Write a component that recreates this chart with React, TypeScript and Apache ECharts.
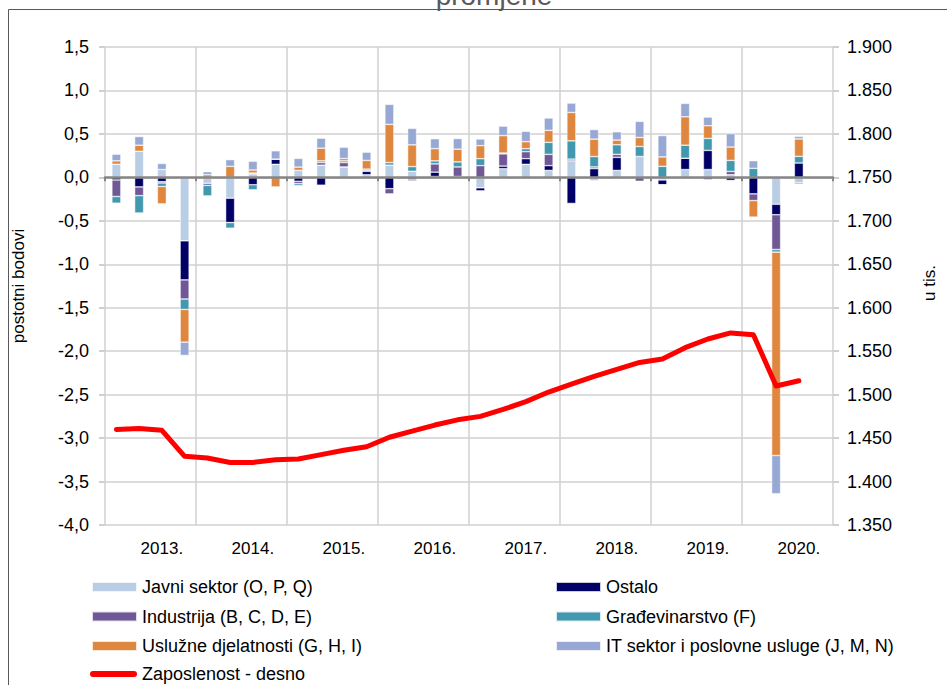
import React, { useEffect, useRef } from "react";
import * as echarts from "echarts";

const years = ["2013.", "2014.", "2015.", "2016.", "2017.", "2018.", "2019.", "2020."];
const quarterNames = ["Q1", "Q2", "Q3", "Q4"];
const categories = years.flatMap((y) => quarterNames.map((q) => y + " " + q));

const leftTicks = { min: -4, max: 1.5, step: 0.5 };
const rightTicks = { min: 1350, max: 1900, step: 50 };

const javni = [0.15, 0.3, 0.09, -0.73, -0.07, -0.24, 0.04, 0.15, 0.08, 0.14, 0.12, 0.03, 0.14, 0.07, 0.01, 0.0, -0.12, 0.1, 0.15, 0.08, 0.19, -0.04, 0.08, 0.24, -0.03, 0.09, 0.09, 0.03, 0.0, -0.31, -0.065, null];
const ostalo = [-0.03, -0.11, -0.05, -0.45, 0, -0.28, -0.085, 0.06, -0.045, -0.09, 0, 0.04, -0.13, -0.02, 0.05, 0.01, -0.035, 0.03, 0.065, 0.055, -0.3, 0.1, 0.15, 0, -0.055, 0.13, 0.22, -0.035, -0.19, -0.12, 0.165, null];
const industrija = [-0.19, -0.1, -0.015, -0.22, -0.023, 0, 0.01, 0, -0.027, 0.03, 0.05, 0.01, -0.06, -0.02, 0.095, 0.11, 0.135, 0.14, 0.08, 0.13, 0.02, 0.02, 0.035, -0.045, 0, 0, -0.027, 0.038, -0.077, -0.4, -0.015, null];
const gradjevinarstvo = [-0.077, -0.2, -0.04, -0.12, -0.12, -0.065, -0.058, 0, -0.023, 0.02, 0.02, 0.015, 0.03, 0.054, 0.035, 0.058, 0.08, 0.01, 0.035, 0.138, 0.21, 0.12, 0.11, 0.115, 0.127, 0.15, 0.138, 0.127, 0.104, -0.03, 0.077, null];
const usluzne = [0.04, 0.07, -0.2, -0.376, 0.03, 0.127, 0.035, -0.11, 0.038, 0.146, 0.027, 0.1, 0.44, 0.25, 0.14, 0.146, 0.15, 0.2, 0.08, 0.138, 0.327, 0.2, 0.054, 0.104, 0.108, 0.327, 0.146, 0.154, -0.19, -2.34, 0.2, null];
const itSektor = [0.077, 0.1, 0.07, -0.153, 0.035, 0.077, 0.1, 0.096, 0.1, 0.115, 0.13, 0.095, 0.23, 0.19, 0.115, 0.123, 0.077, 0.11, 0.12, 0.142, 0.108, 0.11, 0.096, 0.185, 0.246, 0.154, 0.1, 0.154, 0.088, -0.44, 0.03, null];
const zaposlenost = [1460, 1461, 1459, 1429, 1427, 1422, 1422, 1425, 1426, 1431, 1436, 1440, 1451, 1458, 1465, 1471, 1475, 1483, 1492, 1503, 1512, 1521, 1529, 1537, 1541, 1554, 1564, 1571, 1569, 1510, 1516, null];

const barSeries = [
  { name: "Javni sektor (O, P, Q)", data: javni, color: "#B9CDE5" },
  { name: "Ostalo", data: ostalo, color: "#000066" },
  { name: "Industrija (B, C, D, E)", data: industrija, color: "#705796" },
  { name: "Građevinarstvo (F)", data: gradjevinarstvo, color: "#4198AF" },
  { name: "Uslužne djelatnosti (G, H, I)", data: usluzne, color: "#DF873E" },
  { name: "IT sektor i poslovne usluge (J, M, N)", data: itSektor, color: "#96A8D3" },
];
const lineName = "Zaposlenost - desno";

const FONT = "'Liberation Sans', Arial, sans-serif";
const legendText = { fontSize: 18, color: "#000", lineHeight: 20, fontFamily: FONT };

export default function App() {
  const ref = useRef<HTMLDivElement>(null);
  useEffect(() => {
    if (!ref.current) return;
    const chart = echarts.init(ref.current, undefined, { renderer: "svg" });
    const option: any = {
      animation: false,
      textStyle: { fontFamily: FONT },
      grid: { left: 105, right: 114, top: 47, bottom: 160, containLabel: false },
      xAxis: [
        {
          type: "category",
          data: categories,
          position: "bottom",
          axisLine: { onZero: true, lineStyle: { color: "#868686", width: 2.5 } },
          axisTick: { show: true, interval: 3, length: 4, lineStyle: { color: "#868686", width: 2 } },
          axisLabel: { show: false },
          splitLine: { show: true, interval: 3, lineStyle: { color: "#D0D0D0", width: 1.5 } },
          z: 3,
        },
        {
          type: "category",
          data: categories,
          position: "bottom",
          axisLine: { show: false, onZero: false },
          axisTick: { show: false },
          splitLine: { show: false },
          axisLabel: {
            interval: (i: number) => i % 4 === 2,
            formatter: (v: string) => v.split(" ")[0],
            fontSize: 17,
            color: "#000",
            margin: 15,
            fontFamily: FONT,
          },
        },
      ],
      yAxis: [
        {
          type: "value",
          min: leftTicks.min,
          max: leftTicks.max,
          interval: leftTicks.step,
          position: "left",
          axisLine: { show: false },
          axisTick: { show: true, length: 6, lineStyle: { color: "#BFBFBF", width: 1.5 } },
          axisLabel: {
            formatter: (v: number) => v.toFixed(1).replace(".", ","),
            fontSize: 18,
            color: "#000",
            margin: 16,
            fontFamily: FONT,
          },
          splitLine: { show: true, lineStyle: { color: "#D0D0D0", width: 1.5 } },
        },
        {
          type: "value",
          min: rightTicks.min,
          max: rightTicks.max,
          interval: rightTicks.step,
          position: "right",
          axisLine: { show: false },
          axisTick: { show: true, length: 6, lineStyle: { color: "#BFBFBF", width: 1.5 } },
          axisLabel: {
            formatter: (v: number) => (v / 1000).toFixed(3),
            fontSize: 18,
            color: "#000",
            margin: 14,
            fontFamily: FONT,
          },
          splitLine: { show: false },
        },
      ],
      legend: [
        {
          orient: "vertical",
          left: 86,
          top: 572,
          itemWidth: 45,
          itemHeight: 10,
          itemGap: 9.5,
          textStyle: legendText,
          data: [
            { name: barSeries[0].name, icon: "rect" },
            { name: barSeries[2].name, icon: "rect" },
            { name: barSeries[4].name, icon: "rect" },
          ],
        },
        {
          orient: "vertical",
          left: 85,
          top: 659,
          itemWidth: 47,
          itemHeight: 6,
          textStyle: legendText,
          data: [
            {
              name: lineName,
              icon: "path://M3,0 H44 A3,3 0 0 1 44,6 H3 A3,3 0 0 1 3,0 Z",
            },
          ],
        },
        {
          orient: "vertical",
          left: 550,
          top: 572,
          itemWidth: 45,
          itemHeight: 10,
          itemGap: 9.5,
          textStyle: legendText,
          data: [
            { name: barSeries[1].name, icon: "rect" },
            { name: barSeries[3].name, icon: "rect" },
            { name: barSeries[5].name, icon: "rect" },
          ],
        },
      ],
      graphic: [
        {
          type: "rect",
          shape: { x: 8.5, y: 9.5, width: 1000, height: 1000 },
          style: { fill: "none", stroke: "#595959", lineWidth: 1 },
          silent: true,
        },
        {
          type: "text",
          x: 494,
          y: -5,
          style: { text: "promjene", font: "28px " + FONT, fill: "#595959", textAlign: "center", textVerticalAlign: "middle" },
        },
        {
          type: "text",
          x: 18,
          y: 286,
          rotation: Math.PI / 2,
          style: { text: "postotni bodovi", font: "17px " + FONT, fill: "#000", textAlign: "center", textVerticalAlign: "middle" },
        },
        {
          type: "text",
          x: 929,
          y: 283,
          rotation: Math.PI / 2,
          style: { text: "u tis.", font: "17px " + FONT, fill: "#000", textAlign: "center", textVerticalAlign: "middle" },
        },
      ],
      series: [
        ...barSeries.map((s) => ({
          name: s.name,
          type: "bar",
          stack: "total",
          data: s.data,
          barWidth: 9,
          itemStyle: { color: s.color, borderColor: "rgba(255,255,255,0.8)", borderWidth: 0.6 },
          xAxisIndex: 0,
          yAxisIndex: 0,
        })),
        {
          name: lineName,
          type: "line",
          data: zaposlenost,
          xAxisIndex: 0,
          yAxisIndex: 1,
          symbol: "none",
          showSymbol: false,
          z: 5,
          lineStyle: { color: "#FF0000", width: 5, cap: "round", join: "round" },
          itemStyle: { color: "#FF0000" },
        },
      ],
    };
    chart.setOption(option);
    return () => chart.dispose();
  }, []);
  return (
    <div
      ref={ref}
      style={{ position: "fixed", left: 0, top: 0, width: 947, height: 685, background: "#fff" }}
    />
  );
}
